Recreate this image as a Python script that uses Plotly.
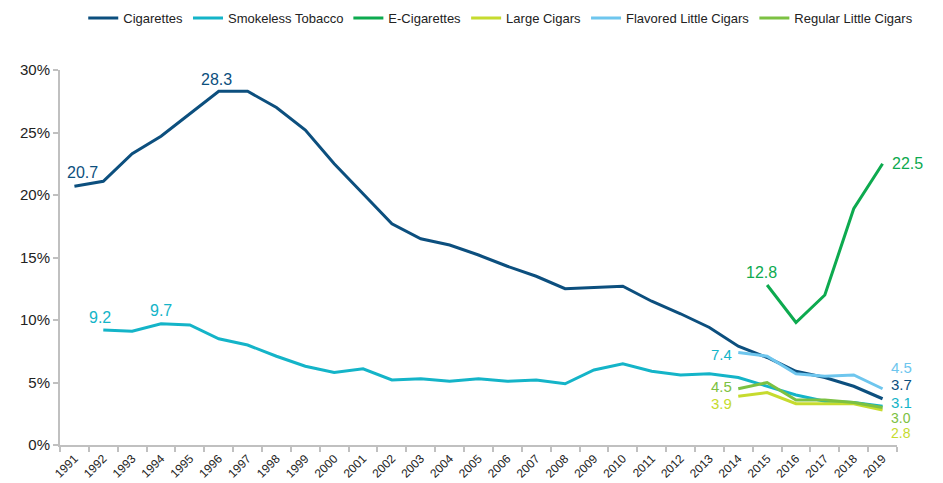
import plotly.graph_objects as go

years = [str(y) for y in range(1991, 2020)]

cigarettes = [20.7, 21.1, 23.3, 24.7, 26.5, 28.3, 28.3, 27.0, 25.2, 22.5, 20.1, 17.7, 16.5, 16.0,
              15.2, 14.3, 13.5, 12.5, 12.6, 12.7, 11.5, 10.5, 9.4, 7.9, 7.0, 5.9, 5.4, 4.7, 3.7]
smokeless = [None, 9.2, 9.1, 9.7, 9.6, 8.5, 8.0, 7.1, 6.3, 5.8, 6.1, 5.2, 5.3, 5.1,
             5.3, 5.1, 5.2, 4.9, 6.0, 6.5, 5.9, 5.6, 5.7, 5.4, 4.7, 4.0, 3.5, 3.4, 3.1]
ecig = [None] * 24 + [12.8, 9.8, 12.0, 18.9, 22.5]
large_cigars = [None] * 23 + [3.9, 4.2, 3.3, 3.3, 3.3, 2.8]
flavored_lc = [None] * 23 + [7.4, 7.1, 5.7, 5.5, 5.6, 4.5]
regular_lc = [None] * 23 + [4.5, 5.0, 3.6, 3.6, 3.4, 3.0]

series = [
    ("Cigarettes", cigarettes, "#0C4F7E"),
    ("Smokeless Tobacco", smokeless, "#14B4C8"),
    ("E-Cigarettes", ecig, "#0DAA4F"),
    ("Large Cigars", large_cigars, "#C6DB2E"),
    ("Flavored Little Cigars", flavored_lc, "#6EC6EE"),
    ("Regular Little Cigars", regular_lc, "#7CC142"),
]

fig = go.Figure()
for name, vals, col in series:
    fig.add_trace(go.Scatter(x=years, y=vals, name=name, mode="lines",
                             line=dict(color=col, width=3), connectgaps=False))

lab_font = "Liberation Sans Narrow, Arial Narrow, Liberation Sans, Arial, sans-serif"

def lab(yr, val, col, xs, ys, xanchor="center", size=15):
    fig.add_annotation(x=years.index(str(yr)), y=val, xref="x", yref="y",
                       text=f"{val:.1f}",
                       showarrow=False, xshift=xs, yshift=ys, xanchor=xanchor,
                       borderpad=0,
                       font=dict(family=lab_font, size=size, color=col))

C = {n: c for n, _, c in series}
lab(1991, cigarettes[0], C["Cigarettes"], 8, 14, size=16)
lab(1996, cigarettes[5], C["Cigarettes"], -2, 12, size=16)
lab(1992, smokeless[1], C["Smokeless Tobacco"], -3, 13, size=16)
lab(1994, smokeless[3], C["Smokeless Tobacco"], 0, 13, size=16)
lab(2015, ecig[24], C["E-Cigarettes"], -6, 13, size=16)
lab(2019, ecig[28], C["E-Cigarettes"], 8, 0, xanchor="left", size=16)
lab(2014, flavored_lc[23], C["Smokeless Tobacco"], -5, -2, xanchor="right")
lab(2014, regular_lc[23], C["Regular Little Cigars"], -5, 2, xanchor="right")
lab(2014, large_cigars[23], C["Large Cigars"], -5, -7, xanchor="right")
lab(2019, flavored_lc[28], C["Flavored Little Cigars"], 7, 21, xanchor="left")
lab(2019, cigarettes[28], C["Cigarettes"], 7, 14, xanchor="left")
lab(2019, smokeless[28], C["Smokeless Tobacco"], 7, 4, xanchor="left")
lab(2019, regular_lc[28], C["Regular Little Cigars"], 7, -10, xanchor="left", size=14)
lab(2019, large_cigars[28], C["Large Cigars"], 7, -23, xanchor="left", size=14)

fig.update_layout(
    width=935, height=475,
    margin=dict(l=52, r=46, t=62, b=38),
    plot_bgcolor="white", paper_bgcolor="white",
    font=dict(family=lab_font, color="#333333"),
    showlegend=True,
    legend=dict(orientation="h", xref="container", x=0.527, xanchor="center",
                yref="container", y=0.979, yanchor="middle",
                font=dict(family=lab_font, size=13, color="#222222"),
                itemwidth=30, tracegroupgap=0, bgcolor="rgba(0,0,0,0)"),
    xaxis=dict(type="category", range=[-0.5, 28.5], showgrid=False, automargin=False,
               showline=True, linecolor="#C0C0C0", linewidth=2,
               ticks="outside", tickson="boundaries", ticklen=5, tickcolor="#C0C0C0",
               tickwidth=2, tickangle=-45,
               tickfont=dict(family=lab_font, size=12, color="#222222")),
    yaxis=dict(range=[0, 30], dtick=5, ticksuffix="%", showgrid=False, zeroline=False,
               automargin=False,
               showline=True, linecolor="#C0C0C0", linewidth=2,
               ticks="outside", ticklen=5, tickcolor="#C0C0C0", tickwidth=2,
               tickfont=dict(family="Liberation Sans, Arial, sans-serif", size=15, color="#222222")),
)

fig.write_html("out.html")
